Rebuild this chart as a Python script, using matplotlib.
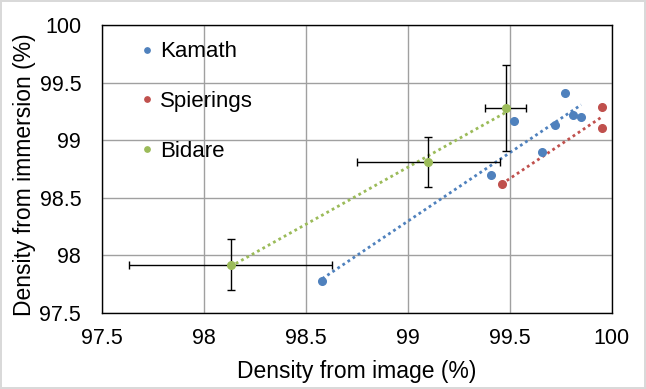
import numpy as np
import matplotlib
matplotlib.use('Agg')
import matplotlib.pyplot as plt

plt.rcParams['font.family'] = ['Liberation Sans', 'DejaVu Sans']

# Kamath
kamath_x = [98.58, 99.41, 99.52, 99.66, 99.72, 99.77, 99.81, 99.85]
kamath_y = [97.78, 98.70, 99.17, 98.90, 99.13, 99.41, 99.22, 99.20]

# Spierings
spier_x = [99.46, 99.95, 99.95]
spier_y = [98.62, 99.29, 99.11]

# Bidare (with error bars)
bidare_x = [98.13, 99.10, 99.48]
bidare_y = [97.92, 98.81, 99.28]
bidare_xerr = [0.50, 0.35, 0.10]
bidare_yerr = [0.22, 0.22, 0.37]

tick_labels = ['97.5', '98', '98.5', '99', '99.5', '100']

blue = '#4f81bd'
red = '#c0504d'
green = '#9bbb59'

fig = plt.figure(figsize=(6.46, 3.89), dpi=100)
fig.patch.set_edgecolor('#d9d9d9')
fig.patch.set_linewidth(1.5)
ax = fig.add_axes([0.158, 0.195, 0.789, 0.741])

def trend(x, y, color):
    x = np.array(x)
    m, b = np.polyfit(x, y, 1)
    xs = np.array([x.min(), x.max()])
    ax.plot(xs, m * xs + b, linestyle=(0, (1, 1.2)), linewidth=2, color=color, zorder=2)

trend(kamath_x, kamath_y, blue)
trend(spier_x, spier_y, red)
trend(bidare_x, bidare_y, green)

ax.errorbar(bidare_x, bidare_y, xerr=bidare_xerr, yerr=bidare_yerr, fmt='none',
            ecolor='black', elinewidth=1, capsize=3, capthick=1, zorder=3)

ax.plot(kamath_x, kamath_y, 'o', color=blue, markersize=5.5, label='Kamath', zorder=4)
ax.plot(spier_x, spier_y, 'o', color=red, markersize=5.5, label='Spierings', zorder=4)
ax.plot(bidare_x, bidare_y, 'o', color=green, markersize=5.5, label='Bidare', zorder=4)

ax.set_xlim(97.5, 100)
ax.set_ylim(97.5, 100)
ticks = np.arange(97.5, 100.01, 0.5)
ax.set_xticks(ticks)
ax.set_yticks(ticks)
ax.set_xticklabels(tick_labels)
ax.set_yticklabels(tick_labels)
ax.tick_params(length=0, labelsize=15.5)
ax.tick_params(axis='x', pad=11)
ax.tick_params(axis='y', pad=15)
ax.grid(True, color='#a0a0a0', linewidth=1)
ax.set_axisbelow(True)
for s in ax.spines.values():
    s.set_color('black')
    s.set_linewidth(1)

ax.set_xlabel('Density from image (%)', fontsize=16.5)
ax.set_ylabel('Density from immersion (%)', fontsize=16.5)
ax.xaxis.set_label_coords(0.5, -0.163)
ax.yaxis.set_label_coords(-0.13, 0.48)

leg = ax.legend(loc='upper left', frameon=False, fontsize=16, markerscale=0.7,
                handlelength=0.4, handletextpad=0.35, labelspacing=1.29,
                bbox_to_anchor=(0.041, 1.012))

fig.savefig('out.png', dpi=100)
